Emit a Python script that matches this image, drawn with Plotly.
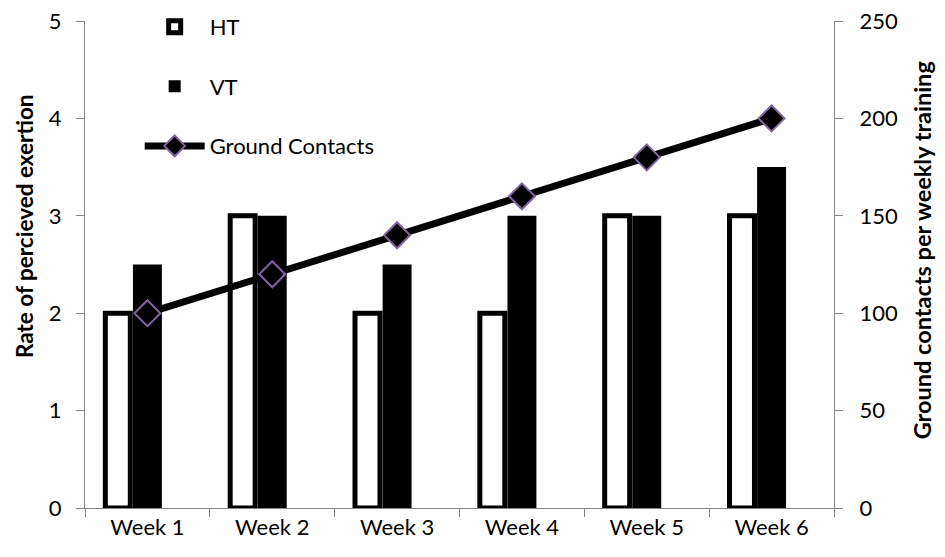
import plotly.graph_objects as go

weeks = ["Week 1", "Week 2", "Week 3", "Week 4", "Week 5", "Week 6"]
ht_values = [2, 3, 2, 2, 3, 3]
vt_values = [2.5, 3, 2.5, 3, 3, 3.5]
ground_contacts = [100, 120, 140, 160, 180, 200]

FONT = "Lato, 'Open Sans', sans-serif"
AXIS_GRAY = "#868686"

fig = go.Figure()
fig.add_trace(go.Bar(
    x=weeks, y=ht_values, name="HT",
    width=0.2, offset=-0.337,
    marker=dict(color="white", line=dict(color="black", width=5)),
    legendgroup="a",
))
fig.add_trace(go.Bar(
    x=weeks, y=vt_values, name="VT",
    width=0.232, offset=-0.116,
    marker=dict(color="black", line=dict(color="black", width=0)),
    legendgroup="b",
))
fig.add_trace(go.Scatter(
    x=weeks, y=ground_contacts, name="Ground Contacts", yaxis="y2",
    mode="lines+markers",
    line=dict(color="black", width=7),
    marker=dict(symbol="diamond", size=20, color="black",
                line=dict(color="#8064A2", width=2)),
    legendgroup="c",
))

fig.update_layout(
    width=937, height=549,
    margin=dict(l=77, r=111, t=13, b=49, autoexpand=False),
    paper_bgcolor="white", plot_bgcolor="white",
    font=dict(family=FONT, size=22, color="black"),
    barmode="overlay",
    showlegend=True,
    legend=dict(
        x=0.073, y=1.031, xanchor="left", yanchor="top",
        bgcolor="rgba(0,0,0,0)",
        font=dict(size=22, family=FONT),
        traceorder="grouped", tracegroupgap=28,
        itemwidth=60,
    ),
    xaxis=dict(
        type="category", showline=True, linecolor=AXIS_GRAY, linewidth=1,
        ticks="outside", tickson="boundaries", tickcolor=AXIS_GRAY, ticklen=8,
        showgrid=False, tickfont=dict(size=22),
    ),
    yaxis=dict(
        range=[0, 5], dtick=1, showline=True, linecolor=AXIS_GRAY, linewidth=1,
        ticks="outside", tickcolor=AXIS_GRAY, ticklen=8, showgrid=False,
        zeroline=False, tickfont=dict(size=22), ticklabelstandoff=10,
        ticklabeloverflow="allow",
    ),
    yaxis2=dict(
        range=[0, 250], dtick=50, overlaying="y", side="right",
        showline=True, linecolor=AXIS_GRAY, linewidth=1,
        ticks="outside", tickcolor=AXIS_GRAY, ticklen=8, showgrid=False,
        zeroline=False, tickfont=dict(size=22), ticklabelstandoff=12,
        ticklabeloverflow="allow",
    ),
    annotations=[
        dict(text="<b>Rate of percieved exertion</b>", textangle=-90,
             xref="paper", yref="paper", x=-0.0814, y=0.579,
             xanchor="center", yanchor="middle", showarrow=False,
             font=dict(size=22.5, family=FONT)),
        dict(text="<b>Ground contacts per weekly training</b>", textangle=-90,
             xref="paper", yref="paper", x=1.118, y=0.530,
             xanchor="center", yanchor="middle", showarrow=False,
             font=dict(size=23.5, family=FONT)),
    ],
)

fig.write_html("out.html")
